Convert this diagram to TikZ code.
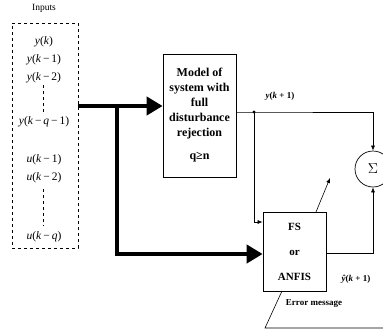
\documentclass[tikz,border=0pt]{standalone}
\usepackage{fontspec}
\setmainfont{Liberation Serif}
\usetikzlibrary{arrows.meta}
\tikzset{
  thin arr/.style={-{Latex[length=5pt,width=4pt]}, line width=0.6pt},
  thick arr/.style={-{Triangle[length=16pt,width=18pt]}, line width=4pt},
  blk/.style={draw, line width=0.7pt, align=center, inner sep=0pt},
  inp/.style={font=\fontsize{11.5}{12}\selectfont, inner sep=0pt},
  lab/.style={font=\fontsize{9}{10}\selectfont\bfseries, inner sep=0pt}
}
\newcommand{\vy}{\textit{y}}
\newcommand{\vk}{\textit{k}}
\newcommand{\vu}{\textit{u}}
\newcommand{\mn}{\,−\,}
\begin{document}
\begin{tikzpicture}[x=1pt,y=-1pt]
\useasboundingbox (0,0) rectangle (383,335);
\node[font=\fontsize{9.5}{10}\selectfont, inner sep=0pt] (lbl) at (44,8) {Inputs};
\node[draw, dashed, line width=0.6pt, minimum width=66pt, minimum height=225pt, inner sep=0pt] (inbox) at (45,135.5) {};
\node[inp] (i1) at (44,42) {\vy(\vk)};
\node[inp] (i2) at (44,60) {\vy(\vk\mn1)};
\node[inp] (i3) at (44,78) {\vy(\vk\mn2)};
\node[inp] (i4) at (44,122) {\vy(\vk\mn\textit{q}\mn1)};
\node[inp] (i5) at (44,160) {\vu(\vk\mn1)};
\node[inp] (i6) at (44,178) {\vu(\vk\mn2)};
\node[inp] (i7) at (44,237) {\vu(\vk\mn\textit{q})};
\draw[dashed, line width=0.6pt] ([yshift=-2pt]i3.south -| 43,0) -- ([yshift=3pt]i4.north -| 43,0);
\draw[dashed, line width=0.6pt] ([yshift=-6pt]i6.south -| 43,0) -- ([yshift=6pt]i7.north -| 43,0);

\node[blk, minimum width=73pt, minimum height=123pt, font=\fontsize{12}{15}\selectfont\bfseries] (model) at (199.5,115.5)
  {Model of\\system with\\full\\disturbance\\rejection\\[8pt]q≥n};
\node[blk, minimum width=63pt, minimum height=79pt, font=\fontsize{11}{13}\selectfont\bfseries] (fs) at (294.5,251.5)
  {FS\\[12pt]or\\[12pt]ANFIS};
\node[draw, circle, line width=0.7pt, minimum size=36pt, inner sep=0pt] (sum) at (373,169) {\fontsize{14}{14}\selectfont$\Sigma$};

\coordinate (tin) at (inbox.east |- 0,106);
\coordinate (tj) at (117,106);
\coordinate (tb) at (117,254);
\draw[thick arr] (tin) -- (model.west |- tin);
\draw[thick arr, line join=miter] ([yshift=-2pt]tj) -- (tb) -- (fs.west |- tb);

\coordinate (mo) at (model.east |- 0,112);
\coordinate (dot) at (254,112);
\coordinate (corner) at (sum.north |- mo);
\draw[line width=0.6pt] (mo) -- (dot) -- (corner);
\draw[thin arr] (corner) -- (sum.north);
\fill (dot) circle (1.6pt);
\coordinate (fsin) at (fs.west |- 0,222);
\draw[thin arr] (dot) |- (fsin);
\coordinate (fsout) at (fs.east |- 0,253);
\draw[thin arr] (fsout) -| (sum.south);

\coordinate (d1) at (316,212);
\coordinate (d2) at (330,178);
\draw[thin arr] (d1) -- (d2);
\coordinate (e1) at (282,291);
\coordinate (e2) at (265,328);
\coordinate (e3) at (383,328);
\draw[line width=0.6pt] (e1) -- (e2) -- (e3);

\node[lab] (yk1) at (280,96) {\textit{y}(\textit{k} + 1)};
\node[lab] (yhat) at (356,279) {\textit{ŷ}(\textit{k} + 1)};
\node[lab] (err) at (314,304) {Error message};
\end{tikzpicture}
\end{document}
